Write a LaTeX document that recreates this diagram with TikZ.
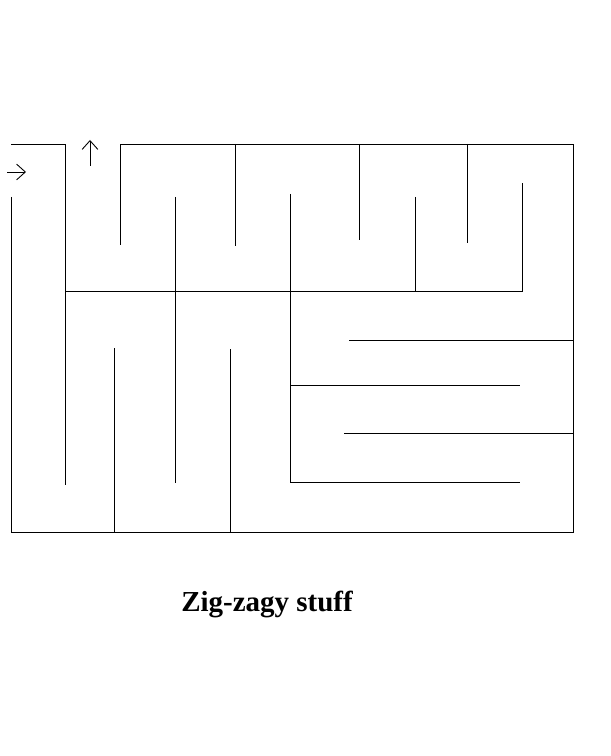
\documentclass[tikz,border=0pt]{standalone}
\usepackage{fontspec}
\setmainfont{Liberation Serif}
\usetikzlibrary{arrows.meta}
\usetikzlibrary{positioning}
\begin{document}
\begin{tikzpicture}[x=0.02cm, y=-0.02cm,
    wall/.style={black, line width=0.5pt},
    hint/.style={black, line width=0.5pt, -{Straight Barb[length=5pt,width=9pt]}}
]
    \useasboundingbox (0,0) rectangle (610,756);
    % Outer walls
    \draw [wall] (11,144) -- (65,144) -- (65,485);
    \draw [wall] (11,197) -- (11,532) -- (573,532) -- (573,144) -- (120,144) -- (120,245);
    % - Teeth hanging from the top
    \draw [wall] (235,144) -- (235,246);
    \draw [wall] (359,144) -- (359,240);
    \draw [wall] (467,144) -- (467,243);
    % - Middle bar and what stands on it
    \draw [wall] (65,291) -- (522,291) -- (522,183);
    \draw [wall] (415,197) -- (415,291);
    \draw [wall] (175,197) -- (175,483);
    \draw [wall] (290,194) -- (290,482) -- (520,482);
    % - Lower right zig-zag
    \draw [wall] (349,340) -- (573,340);
    \draw [wall] (290,385) -- (520,385);
    \draw [wall] (344,433) -- (573,433);
    % - Teeth standing on the bottom
    \draw [wall] (114,348) -- (114,532);
    \draw [wall] (230,349) -- (230,532);
    % Entry and exit
    \draw [hint] (7,172) -- (26,172);
    \draw [hint] (90,166) -- (90,140);
    % Caption
    \node at (267,604) (caption) {\fontsize{16.5}{20}\selectfont\bfseries Zig-zagy stuff};
\end{tikzpicture}
\end{document}
